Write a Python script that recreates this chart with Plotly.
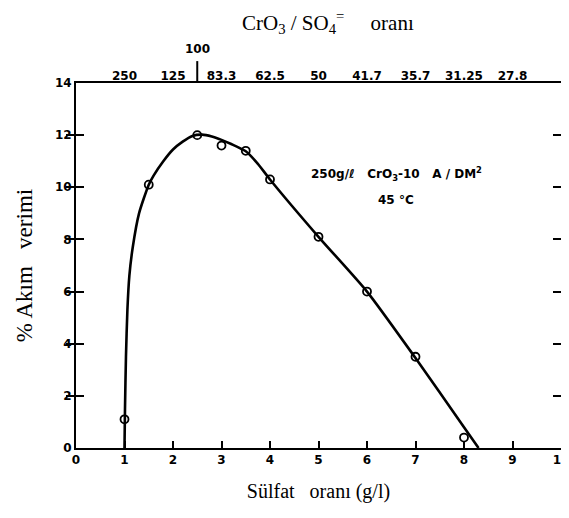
import plotly.graph_objects as go

# Measured points (sulfate g/l, % current efficiency)
sulfat = [1.0, 1.5, 2.5, 3.0, 3.5, 4.0, 5.0, 6.0, 7.0, 8.0]
verim = [1.1, 10.1, 12.0, 11.6, 11.4, 10.3, 8.1, 6.0, 3.5, 0.4]

# Hand-drawn fitted curve
curve_x = [1.0, 1.01, 1.03, 1.06, 1.1, 1.17, 1.3, 1.5, 1.6, 1.8, 2.0, 2.2, 2.4, 2.6, 2.8, 3.0,
           3.2, 3.5, 3.75, 4.0, 5.0, 6.0, 7.0, 8.0, 8.3]
curve_y = [0.0, 1.5, 3.5, 5.3, 6.6, 7.7, 9.0, 10.1, 10.45, 11.0, 11.45, 11.75, 11.97, 12.02, 11.95, 11.82,
           11.66, 11.38, 10.9, 10.3, 8.1, 6.0, 3.45, 0.8, 0.0]

# Bottom axis ticks
x_ticks = [0, 1, 2, 3, 4, 5, 6, 7, 8, 9, 10]
y_ticks = [0, 2, 4, 6, 8, 10, 12, 14]

# Top axis: CrO3/SO4 ratio labels
top_pos = [1, 2, 3, 4, 5, 6, 7, 8, 9]
top_labels = ["250", "125", "83.3", "62.5", "50", "41.7", "35.7", "31.25", "27.8"]
top_extra_pos = 2.5
top_extra_label = "100"

tick_font = dict(family="DejaVu Sans", size=12, color="black", weight="bold")
serif = "Liberation Serif"

fig = go.Figure()
fig.add_trace(go.Scatter(x=curve_x, y=curve_y, mode="lines",
                         line=dict(color="black", width=2.6, shape="spline", smoothing=0.6),
                         hoverinfo="skip", showlegend=False))
fig.add_trace(go.Scatter(x=sulfat, y=verim, mode="markers",
                         marker=dict(symbol="circle-open", size=8, color="black",
                                     line=dict(width=1.8, color="black")),
                         showlegend=False))
# dummy trace for top axis
fig.add_trace(go.Scatter(x=top_pos, y=[None] * len(top_pos), xaxis="x2",
                         mode="markers", showlegend=False, hoverinfo="skip"))

fig.update_layout(
    width=561, height=510,
    margin=dict(l=68, r=8, t=75, b=70, autoexpand=False),
    paper_bgcolor="white", plot_bgcolor="white",
    xaxis=dict(range=[0, 10], tickvals=x_ticks, ticks="inside", ticklen=7, tickwidth=1.5,
               tickcolor="black", showline=True, linecolor="black", linewidth=2,
               mirror=True, showgrid=False, zeroline=False, tickfont=tick_font, automargin=False,
               ticklabeloverflow="allow",
               title=dict(text="Sülfat   oranı (g/l)", font=dict(family=serif, size=20, color="black"),
                          standoff=18)),
    yaxis=dict(range=[0, 14], tickvals=y_ticks, ticks="inside", ticklen=8, tickwidth=1.5,
               tickcolor="black", showline=True, linecolor="black", linewidth=2,
               mirror="allticks", showgrid=False, zeroline=False, tickfont=tick_font, automargin=False,
               title=dict(text="% Akım   verimi", font=dict(family=serif, size=23, color="black"),
                          standoff=16)),
    xaxis2=dict(range=[0, 10], overlaying="x", side="top", tickvals=top_pos, ticktext=top_labels,
                ticks="", showline=False, showgrid=False, zeroline=False, tickfont=tick_font,
                automargin=False),
)

fig.add_annotation(x=top_extra_pos, xref="x", y=1, yref="paper", yanchor="bottom",
                   text=top_extra_label, showarrow=False, yshift=25, font=tick_font)
fig.add_shape(type="line", xref="x", yref="paper", x0=top_extra_pos, x1=top_extra_pos,
              y0=1, y1=1.06, line=dict(color="black", width=2))

fig.add_annotation(x=0.52, xref="paper", y=1, yref="paper", yanchor="bottom", yshift=44,
                   text="CrO<sub>3</sub> / SO<sub>4</sub><sup>=</sup>     oranı", showarrow=False,
                   font=dict(family=serif, size=21, color="black"))

fig.add_annotation(x=6.6, y=10.5, xref="x", yref="y",
                   text="250g/ℓ   CrO<sub>3</sub>-10   A / DM<sup>2</sup>",
                   showarrow=False, font=dict(family="DejaVu Sans", size=12, color="black", weight="bold"))
fig.add_annotation(x=6.6, y=9.5, xref="x", yref="y", text="45 °C", showarrow=False,
                   font=dict(family="DejaVu Sans", size=12, color="black", weight="bold"))

fig.write_html("out.html")
